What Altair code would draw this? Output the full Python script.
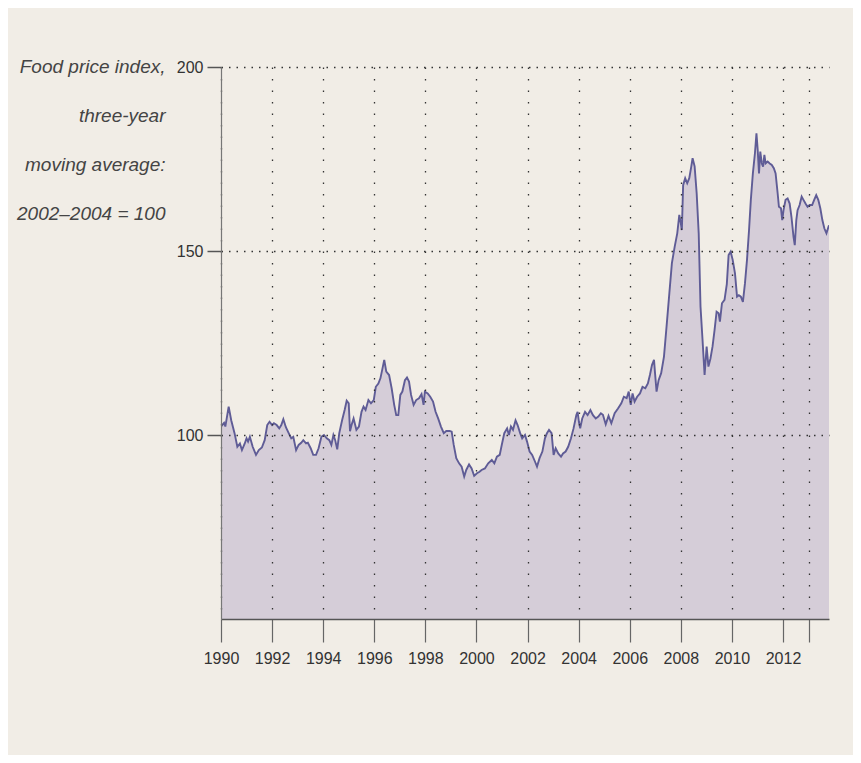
import altair as alt
import pandas as pd

# Fractional year and food price index (three-year moving average: 2002-2004 = 100)
years = [
    1990.00, 1990.12, 1990.17, 1990.30, 1990.40, 1990.53, 1990.64, 1990.74, 1990.82, 1990.93,
    1991.00, 1991.06, 1991.13, 1991.24, 1991.37, 1991.48, 1991.60, 1991.71, 1991.81, 1991.90,
    1992.00, 1992.07, 1992.18, 1992.28, 1992.36, 1992.44, 1992.54, 1992.65, 1992.75, 1992.83, 1992.94,
    1993.04, 1993.14, 1993.22, 1993.33, 1993.40, 1993.51, 1993.61, 1993.72, 1993.82, 1993.93,
    1994.03, 1994.14, 1994.24, 1994.32, 1994.40, 1994.47, 1994.55, 1994.63, 1994.74, 1994.84, 1994.92,
    1995.00, 1995.05, 1995.11, 1995.19, 1995.30, 1995.40, 1995.50, 1995.58, 1995.66, 1995.77, 1995.87, 1995.98,
    1996.06, 1996.16, 1996.24, 1996.31, 1996.39, 1996.47, 1996.58, 1996.68, 1996.78, 1996.86, 1996.94,
    1997.02, 1997.10, 1997.20, 1997.28, 1997.36, 1997.44, 1997.54, 1997.64, 1997.75, 1997.85, 1997.93, 1997.98,
    1998.09, 1998.19, 1998.30, 1998.40, 1998.50, 1998.61, 1998.72, 1998.82, 1998.95,
    1999.03, 1999.11, 1999.21, 1999.32, 1999.42, 1999.52, 1999.60, 1999.71, 1999.81, 1999.91,
    2000.02, 2000.12, 2000.20, 2000.33, 2000.46, 2000.60, 2000.70, 2000.80, 2000.91, 2000.99,
    2001.09, 2001.20, 2001.27, 2001.35, 2001.43, 2001.53, 2001.61, 2001.71, 2001.79, 2001.90, 2001.98,
    2002.08, 2002.18, 2002.29, 2002.37, 2002.47, 2002.58, 2002.68, 2002.76, 2002.84, 2002.94,
    2003.02, 2003.10, 2003.20, 2003.31, 2003.39, 2003.49, 2003.59, 2003.70, 2003.80, 2003.91, 2003.96,
    2004.01, 2004.06, 2004.14, 2004.25, 2004.35, 2004.46, 2004.56, 2004.67, 2004.77, 2004.87, 2004.95,
    2005.06, 2005.17, 2005.28, 2005.41, 2005.54, 2005.67, 2005.77, 2005.88, 2005.96,
    2006.04, 2006.11, 2006.19, 2006.29, 2006.40, 2006.50, 2006.61, 2006.71, 2006.79, 2006.87, 2006.95, 2006.99,
    2007.05, 2007.13, 2007.23, 2007.34, 2007.44, 2007.55, 2007.65, 2007.76, 2007.86, 2007.94,
    2008.00, 2008.04, 2008.09, 2008.17, 2008.25, 2008.33, 2008.41, 2008.46, 2008.54, 2008.62, 2008.70,
    2008.77, 2008.85, 2008.93,
    2009.01, 2009.08, 2009.16, 2009.24, 2009.32, 2009.40, 2009.48, 2009.53, 2009.61, 2009.71, 2009.80,
    2009.87, 2009.95,
    2010.03, 2010.12, 2010.20, 2010.27, 2010.35, 2010.43, 2010.51, 2010.59, 2010.67, 2010.74, 2010.82,
    2010.90, 2010.96,
    2011.01, 2011.06, 2011.11, 2011.17, 2011.22, 2011.27, 2011.32, 2011.40, 2011.48, 2011.56, 2011.64,
    2011.71, 2011.79, 2011.84, 2011.92, 2011.97,
    2012.02, 2012.10, 2012.18, 2012.26, 2012.33, 2012.41, 2012.46, 2012.52, 2012.57, 2012.65, 2012.73,
    2012.80, 2012.88, 2012.96,
    2013.04, 2013.14, 2013.22, 2013.30, 2013.38, 2013.46, 2013.54, 2013.62, 2013.70, 2013.78, 2013.80,
]
index = [
    102.3, 103.3, 102.3, 107.7, 104.0, 100.5, 96.8, 97.7, 95.9, 97.7,
    99.1, 98.2, 99.5, 96.8, 94.6, 95.9, 96.6, 98.6, 102.7, 103.6,
    102.7, 103.2, 102.7, 101.8, 102.7, 104.3, 102.1, 100.5, 99.1, 99.5, 95.9,
    97.3, 97.9, 98.6, 97.7, 97.9, 96.4, 94.6, 94.6, 96.4, 99.5,
    100.0, 99.1, 98.6, 97.3, 100.0, 98.6, 96.1, 100.5, 104.0, 106.8, 109.3,
    108.6, 101.0, 102.7, 104.5, 101.4, 102.3, 106.3, 107.7, 106.8, 109.5, 108.6, 109.5,
    113.1, 114.0, 115.4, 117.7, 120.4, 117.2, 116.3, 112.7, 108.2, 105.4, 105.4,
    110.9, 111.8, 114.9, 115.6, 114.5, 110.9, 108.2, 109.5, 110.0, 111.1, 108.2, 111.8,
    111.3, 110.4, 109.1, 106.3, 104.5, 102.3, 100.5, 101.1, 101.1,
    100.9, 97.3, 93.7, 92.3, 91.4, 88.7, 90.5, 92.0, 90.9, 88.9,
    89.6, 90.0, 90.5, 90.9, 92.3, 93.2, 92.3, 94.1, 94.6, 97.3,
    100.5, 101.8, 100.0, 102.3, 101.4, 104.0, 102.7, 100.5, 99.1, 100.0, 98.2,
    95.5, 94.6, 92.8, 91.4, 93.7, 95.5, 99.1, 100.5, 101.4, 100.5,
    94.6, 96.4, 95.0, 94.1, 95.0, 95.5, 96.8, 99.1, 101.8, 105.4, 106.3,
    103.6, 101.8, 104.5, 106.3, 105.4, 106.8, 105.4, 104.5, 105.0, 105.9, 105.5,
    102.9, 105.2, 103.2, 105.9, 107.2, 108.6, 110.4, 110.0, 111.8,
    108.2, 111.3, 109.1, 110.4, 111.3, 113.1, 112.7, 114.0, 116.3, 119.0, 120.4, 116.8,
    111.8, 114.9, 116.8, 121.3, 129.4, 138.5, 146.7, 151.2, 154.8, 159.8,
    157.5, 155.7, 167.9, 169.8, 168.4, 169.8, 173.0, 175.2, 173.0, 165.7, 154.8,
    134.9, 125.8, 116.3,
    124.0, 118.6, 120.8, 124.0, 128.5, 133.5, 133.1, 130.8, 135.8, 136.7, 141.0,
    148.9, 149.8,
    147.6, 143.9, 137.6, 138.0, 137.6, 136.2, 141.2, 147.6, 155.7, 163.9, 171.1,
    176.5, 182.0,
    177.4, 171.1, 177.0, 173.8, 172.9, 176.1, 173.8, 174.3, 173.8, 173.4, 172.5,
    171.1, 165.7, 162.0, 161.6, 158.4,
    161.1, 163.9, 164.3, 162.9, 159.3, 153.9, 151.6, 158.4, 161.1, 162.5, 164.8,
    163.9, 162.9, 162.0,
    162.5, 162.5, 163.9, 165.2, 163.9, 161.6, 158.4, 156.1, 154.8, 156.6, 157.0,
]

x_ticks = [1990, 1992, 1994, 1996, 1998, 2000, 2002, 2004, 2006, 2008, 2010, 2012, 2013]
y_ticks = [100, 150, 200]
y_title = ["Food price index,", "three-year", "moving average:", "2002\u20132004 = 100"]

df = pd.DataFrame({"year": years, "index": index})

FONT = "Liberation Sans, Arial, sans-serif"

x_enc = alt.X(
    "year:Q",
    scale=alt.Scale(domain=[1990, 2013.8], nice=False, zero=False),
    axis=alt.Axis(
        values=x_ticks,
        format="d",
        labelExpr="datum.value == 2013 ? '' : datum.label",
        grid=True,
        gridDash=[1.5, 10],
        gridColor="#333333",
        gridWidth=1.3,
        tickSize=23,
        tickColor="#666666",
        tickWidth=1.2,
        domainColor="#555555",
        domainWidth=1.5,
        labelFont=FONT,
        labelFontSize=16,
        labelColor="#333333",
        labelPadding=8,
        labelFlush=False,
        title=None,
        zindex=1,
    ),
)

y_enc = alt.Y(
    "index:Q",
    scale=alt.Scale(domain=[50, 200], nice=False, zero=False),
    axis=alt.Axis(
        values=y_ticks,
        grid=True,
        gridDash=[1.5, 6],
        gridColor="#333333",
        gridWidth=1.3,
        tickSize=14,
        tickColor="#555555",
        tickWidth=1.5,
        domainColor="#777777",
        domainWidth=1.2,
        labelFont=FONT,
        labelFontSize=16,
        labelColor="#333333",
        labelPadding=4,
        title=y_title,
        titleAngle=0,
        titleAlign="right",
        titleBaseline="top",
        titleX=-56,
        titleY=-10,
        titleLineHeight=49,
        titleFont=FONT,
        titleFontSize=19,
        titleFontStyle="italic",
        titleFontWeight="normal",
        titleColor="#444444",
        zindex=1,
    ),
)

area = alt.Chart(df).mark_area(color="#d5cdd8", opacity=1, clip=True).encode(
    x=x_enc, y=y_enc, y2=alt.datum(50)
)
line = alt.Chart(df).mark_line(color="#5f5c96", strokeWidth=1.9, clip=True).encode(
    x="year:Q", y="index:Q"
)

chart = (
    alt.layer(area, line)
    .properties(
        width=608,
        height=552,
        background="#f1ede6",
        autosize=alt.AutoSizeParams(type="none"),
        padding={"left": 213, "top": 59, "right": 24, "bottom": 136},
    )
    .configure_view(stroke=None)
)

chart.save("out.html", embed_options={"renderer": "svg", "actions": False})
